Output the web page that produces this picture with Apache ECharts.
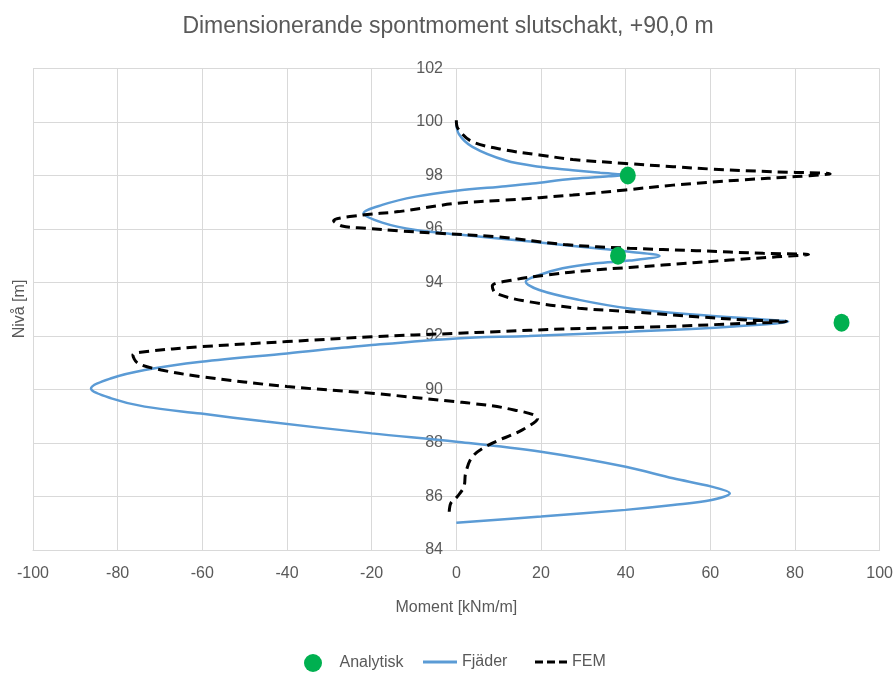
<!DOCTYPE html>
<html>
<head>
<meta charset="utf-8">
<title>Dimensionerande spontmoment slutschakt</title>
<script src="https://cdn.jsdelivr.net/npm/echarts@6/dist/echarts.min.js"></script>
<style>
  html, body { margin: 0; padding: 0; background: #ffffff; }
  #chart { width: 896px; height: 673px; }
</style>
</head>
<body>
<div id="chart"></div>
<script>
// Moment [kNm/m] against level [m]
const xTicks = [-100, -80, -60, -40, -20, 0, 20, 40, 60, 80, 100];
const yTicks = [84, 86, 88, 90, 92, 94, 96, 98, 100, 102];

// Analytisk (point values)
const analytiskMoment = [40.5, 38.2, 91.0];
const analytiskLevel  = [98.0, 95.0, 92.5];

// Fjäder (spring model)
const fjaderMoment = [0, 0.6, 3.8, 11.7, 19.6, 27.5, 34, 40, 36, 27.5, 18, 11.7, 0, -9.6, -17.5, -21.9, -17.5, -9.6, 0,
  17.5, 33, 40.9, 48, 40.9, 33, 25.1, 19.6, 16.4, 19.6, 29, 40.9, 56.7, 72.5, 78.4, 64.6, 40.9, 17.2, 0,
  -20, -40, -60.3, -73.6, -81.5, -86.3, -81.5, -73.6, -60.3, -45, -20, 0, 20, 40, 51.2, 60.3, 64.6,
  60.3, 51.2, 40, 20, 0];
const fjaderLevel = [100.0, 99.55, 99.07, 98.56, 98.33, 98.2, 98.1, 98.02, 97.97, 97.88, 97.7, 97.6, 97.43, 97.21, 96.9, 96.59, 96.24, 95.96, 95.8,
  95.53, 95.28, 95.15, 94.99, 94.82, 94.72, 94.53, 94.28, 94.03, 93.72, 93.35, 93.03, 92.79, 92.62, 92.54, 92.35, 92.16, 92.0, 91.91,
  91.66, 91.35, 91.04, 90.73, 90.42, 90.04, 89.67, 89.36, 89.1, 88.8, 88.36, 88.05, 87.67, 87.11, 86.68, 86.37, 86.12,
  85.87, 85.68, 85.5, 85.25, 85.02];

// FEM
const femMoment = [0, 0.4, 3.8, 11.7, 19.6, 27.5, 40, 51.2, 60.3, 74.9, 88.3, 80.2, 67, 51.2, 40, 27.5, 11.7, 0,
  -13.6, -22.3, -29, -27, -21.5, -13.6, -4.1, 10.1, 25.5, 40.9, 56.7, 72.5, 83.2, 75.7, 64.6, 48.8, 33, 21.2,
  13.3, 8.5, 9.3, 17.2, 29, 40.9, 56.7, 68.6, 78, 64.6, 48.8, 25.1, 9.3, 0, -20, -40, -60.3, -73.6, -76.4,
  -75.2, -69.7, -60.3, -40, -20, 0, 3.8, 11.7, 19.2, 15.6, 7.7, 3.8, 2.2, 1.8, 0.2, -1.3, -1.7];
const femLevel = [100.07, 99.75, 99.26, 98.95, 98.77, 98.6, 98.45, 98.33, 98.24, 98.14, 98.06, 97.96, 97.83, 97.64, 97.46, 97.27, 97.08, 96.96,
  96.65, 96.52, 96.31, 96.11, 96.03, 95.93, 95.84, 95.7, 95.42, 95.28, 95.19, 95.09, 95.05, 94.96, 94.84, 94.65, 94.47, 94.28,
  94.09, 93.87, 93.6, 93.28, 93.04, 92.91, 92.72, 92.6, 92.54, 92.45, 92.35, 92.26, 92.16, 92.1, 91.97, 91.79, 91.6, 91.41, 91.29,
  90.98, 90.73, 90.48, 90.11, 89.86, 89.54, 89.48, 89.3, 88.92, 88.49, 87.93, 87.49, 86.87, 86.37, 85.99, 85.75, 85.37];

const pairs = (xs, ys) => xs.map((x, i) => [x, ys[i]]);

const FONT = "'Liberation Sans Narrow', 'Arial Narrow', 'Liberation Sans', sans-serif";
const TEXT = '#595959';
const GRIDC = '#d9d9d9';

// plot area
const GRID_LEFT = 33, GRID_RIGHT = 15, GRID_TOP = 68.5, GRID_BOTTOM = 123;
const PLOT_W = 896 - GRID_LEFT - GRID_RIGHT;
// the level axis sits on moment = 0
const zeroOffset = -PLOT_W * (0 - xTicks[0]) / (xTicks[xTicks.length - 1] - xTicks[0]);

const legendText = { fontFamily: FONT, fontSize: 16, color: TEXT };

const chart = echarts.init(document.getElementById('chart'), null, { renderer: 'canvas' });

chart.setOption({
  animation: false,
  backgroundColor: '#ffffff',
  textStyle: { fontFamily: FONT, color: TEXT },
  title: {
    text: 'Dimensionerande spontmoment slutschakt, +90,0 m',
    left: 'center',
    top: 10,
    textStyle: { fontFamily: FONT, fontSize: 23, fontWeight: 'normal', color: TEXT }
  },
  grid: { left: GRID_LEFT, right: GRID_RIGHT, top: GRID_TOP, bottom: GRID_BOTTOM },
  xAxis: {
    type: 'value',
    min: xTicks[0],
    max: xTicks[xTicks.length - 1],
    interval: xTicks[1] - xTicks[0],
    name: 'Moment [kNm/m]',
    nameLocation: 'middle',
    nameGap: 50,
    nameTextStyle: { fontFamily: FONT, fontSize: 16, color: TEXT },
    axisLine: { show: true, onZero: false, lineStyle: { color: GRIDC, width: 1 } },
    axisTick: { show: false },
    axisLabel: { fontFamily: FONT, fontSize: 16, color: TEXT, margin: 16 },
    splitLine: { show: true, lineStyle: { color: GRIDC, width: 1 } }
  },
  yAxis: {
    type: 'value',
    position: 'left',
    offset: zeroOffset,
    min: yTicks[0],
    max: yTicks[yTicks.length - 1],
    interval: yTicks[1] - yTicks[0],
    axisLine: { show: false, onZero: false },
    axisTick: { show: false },
    axisLabel: { fontFamily: FONT, fontSize: 16, color: TEXT, margin: 14 },
    splitLine: { show: true, lineStyle: { color: GRIDC, width: 1 } }
  },
  graphic: [{
    type: 'text',
    x: 20,
    y: 309,
    rotation: Math.PI / 2,
    style: {
      text: 'Nivå [m]',
      fontFamily: FONT,
      fontSize: 16,
      fill: TEXT,
      align: 'center',
      verticalAlign: 'middle'
    },
    z: 10
  }],
  legend: [
    {
      // wide item box leaves room between the dot and its label
      data: [{ name: 'Analytisk', icon: 'circle' }],
      left: 304, top: 654, padding: 0, itemWidth: 43, itemHeight: 18,
      textStyle: legendText
    },
    {
      data: [{ name: 'Fjäder', icon: 'path://M0,0h34v3h-34z' }],
      left: 423, top: 654, padding: 0, itemWidth: 34, itemHeight: 3,
      textStyle: legendText
    },
    {
      data: [{ name: 'FEM', icon: 'path://M0,0h8v3h-8zM12,0h8v3h-8zM24,0h8v3h-8z' }],
      left: 535, top: 654, padding: 0, itemWidth: 32, itemHeight: 3,
      textStyle: legendText
    }
  ],
  series: [
    {
      name: 'Fjäder',
      type: 'line',
      data: pairs(fjaderMoment, fjaderLevel),
      showSymbol: false,
      symbol: 'none',
      smooth: 0.35,
      lineStyle: { color: '#5B9BD5', width: 2.5 },
      itemStyle: { color: '#5B9BD5' },
      z: 3
    },
    {
      name: 'FEM',
      type: 'line',
      data: pairs(femMoment, femLevel),
      showSymbol: false,
      symbol: 'none',
      smooth: 0.35,
      lineStyle: { color: '#000000', width: 3, type: [10, 6] },
      itemStyle: { color: '#000000' },
      z: 4
    },
    {
      name: 'Analytisk',
      type: 'scatter',
      data: pairs(analytiskMoment, analytiskLevel),
      symbol: 'circle',
      symbolSize: [16, 18],
      itemStyle: { color: '#00B050', opacity: 1 },
      z: 5
    }
  ]
});
</script>
</body>
</html>
